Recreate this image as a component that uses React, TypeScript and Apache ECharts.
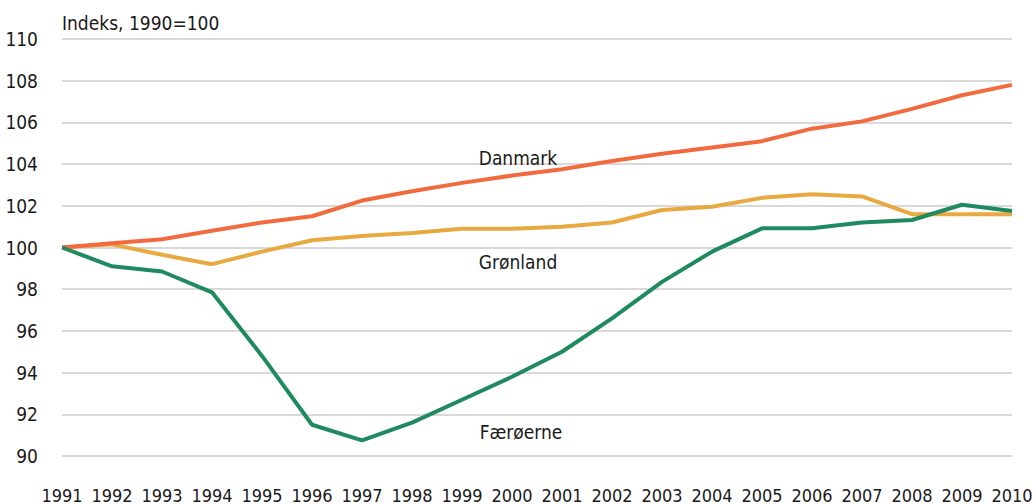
import React, { useEffect, useRef } from "react";
import * as echarts from "echarts";

const years = ["1991","1992","1993","1994","1995","1996","1997","1998","1999","2000","2001","2002","2003","2004","2005","2006","2007","2008","2009","2010"];
const danmark = [100, 100.2, 100.4, 100.8, 101.2, 101.5, 102.25, 102.7, 103.1, 103.45, 103.75, 104.15, 104.5, 104.8, 105.1, 105.7, 106.05, 106.65, 107.3, 107.8];
const groenland = [100, 100.15, 99.65, 99.2, 99.8, 100.35, 100.55, 100.7, 100.9, 100.9, 101.0, 101.2, 101.8, 101.95, 102.38, 102.55, 102.45, 101.6, 101.6, 101.6];
const faeroeerne = [100, 99.1, 98.85, 97.85, 94.8, 91.5, 90.75, 91.6, 92.7, 93.8, 95.0, 96.6, 98.35, 99.8, 100.92, 100.92, 101.2, 101.32, 102.05, 101.75];
const yTicks = [90, 92, 94, 96, 98, 100, 102, 104, 106, 108, 110];

const FONT = "'Liberation Sans Narrow', 'DejaVu Sans Condensed', 'Liberation Sans', sans-serif";

export default function App() {
  const ref = useRef<HTMLDivElement>(null);
  useEffect(() => {
    if (!ref.current) return;
    const chart = echarts.init(ref.current, null, { renderer: "svg" });
    chart.setOption({
      animation: false,
      backgroundColor: "#ffffff",
      grid: { left: 62, right: 24, top: 39, bottom: 48, containLabel: false },
      xAxis: {
        type: "category",
        data: years,
        boundaryGap: false,
        axisLine: { show: false },
        axisTick: { show: false },
        axisLabel: { color: "#1a1a1a", fontSize: 18, fontFamily: FONT, margin: 30, interval: 0 },
        splitLine: { show: false },
      },
      yAxis: {
        type: "value",
        min: yTicks[0],
        max: yTicks[yTicks.length - 1],
        interval: 2,
        axisLine: { show: false },
        axisTick: { show: false },
        axisLabel: { color: "#1a1a1a", fontSize: 19, fontFamily: FONT, margin: 24 },
        splitLine: { lineStyle: { color: "#d9d9d9", width: 2 } },
      },
      graphic: [
        { type: "text", left: 62, top: 13, style: { text: "Indeks, 1990=100", fill: "#1a1a1a", font: `19px ${FONT}` } },
        { type: "text", x: 518, y: 158, z: 10, style: { text: "Danmark", fill: "#1a1a1a", font: `19px ${FONT}`, align: "center", verticalAlign: "middle" } },
        { type: "text", x: 518, y: 262, z: 10, style: { text: "Grønland", fill: "#1a1a1a", font: `19px ${FONT}`, align: "center", verticalAlign: "middle" } },
        { type: "text", x: 521, y: 432, z: 10, style: { text: "Færøerne", fill: "#1a1a1a", font: `19px ${FONT}`, align: "center", verticalAlign: "middle" } },
      ],
      series: [
        { name: "Grønland", type: "line", data: groenland, symbol: "none", lineStyle: { color: "#E8A940", width: 4 }, z: 2 },
        { name: "Danmark", type: "line", data: danmark, symbol: "none", lineStyle: { color: "#F26B3F", width: 4 }, z: 3 },
        { name: "Færøerne", type: "line", data: faeroeerne, symbol: "none", lineStyle: { color: "#1F8A5E", width: 4 }, z: 4 },
      ],
    });
    return () => chart.dispose();
  }, []);
  return <div ref={ref} style={{ width: 1036, height: 504, position: "absolute", left: 0, top: 0 }} />;
}
